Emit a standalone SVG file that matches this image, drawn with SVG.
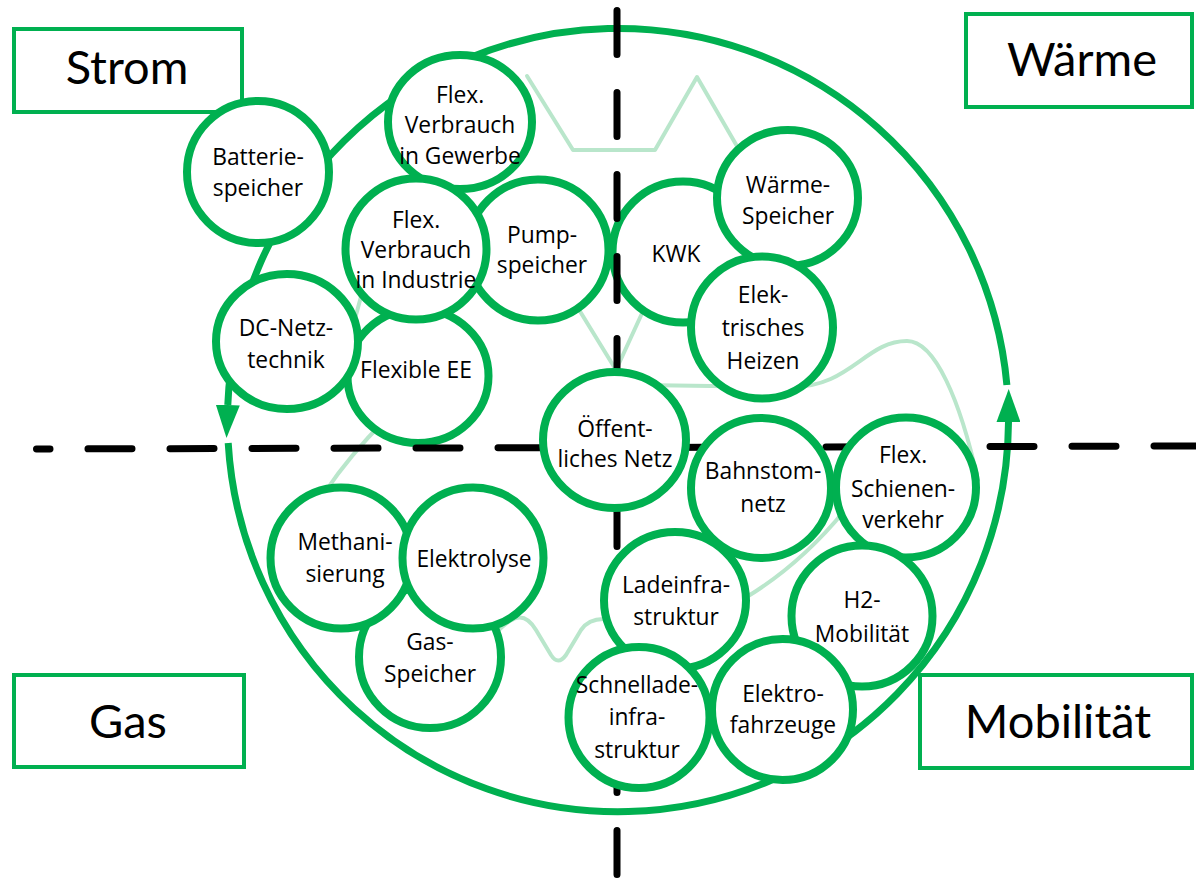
<svg xmlns="http://www.w3.org/2000/svg" width="1196" height="878" viewBox="0 0 1196 878">
<style>
.box{fill:#fff;stroke:#00b050;stroke-width:4}
.blabel{font-family:Lato,'Liberation Sans',sans-serif;font-size:47px;fill:#000;text-anchor:middle}
.node{fill:#fff;stroke:#00b050;stroke-width:8}
.t{font-family:'Open Sans','Liberation Sans',sans-serif;font-size:22.8px;fill:#000;text-anchor:middle}
.light{fill:none;stroke:#b9e6cb;stroke-width:4;stroke-linejoin:round;stroke-linecap:round}
.ring{fill:none;stroke:#00b050;stroke-width:7}
.dash{stroke:#000;stroke-width:7;stroke-linecap:round;stroke-dasharray:44 38}
</style>
<defs>
<marker id="arr" markerUnits="userSpaceOnUse" markerWidth="33" markerHeight="24" viewBox="0 0 33 24" refX="0" refY="12" orient="auto">
<path d="M0,0 L33,12 L0,24 Z" fill="#00b050"/>
</marker>
</defs>

<g id="box-strom"><rect class="box" x="14" y="29" width="228" height="83"/><text class="blabel" x="127" y="84">Strom</text></g>
<g id="box-waerme"><rect class="box" x="966" y="14" width="226" height="93"/><text class="blabel" x="1082" y="76">Wärme</text></g>
<g id="box-gas"><rect class="box" x="14" y="675" width="230" height="92"/><text class="blabel" x="128" y="738">Gas</text></g>
<g id="box-mobilitaet"><rect class="box" x="920" y="675" width="272" height="93"/><text class="blabel" x="1058" y="738">Mobilität</text></g>

<g id="connectors">
<path class="light" d="M527,76 L573,150 L655,150 L697,77 L745,160"/>
<path class="light" d="M570,295 L616,370 L655,285"/>
<path class="light" d="M640,385 L790,387 C850,388 865,341 907,341 C935,341 960,400 978,480"/>
<path class="light" d="M845,510 Q800,565 745,598"/>
<path class="light" d="M495,634 C512,616 524,610 536,630 L551,655 Q558,666 566,655 L581,630 Q591,616 612,620"/>
<path class="light" d="M385,420 Q350,455 325,492"/>
<path class="light" d="M366,278 L352,330"/>
<path class="ring" d="M1006.9,385 A390.5,392 0 0 0 227.8,405" marker-end="url(#arr)"/>
<path class="ring" d="M228.2,443 A390.5,392 0 0 0 1008.5,422" marker-end="url(#arr)"/>
</g>

<g id="n-kwk"><circle class="node" cx="683" cy="252" r="70.5"/><text class="t" x="676" y="262">KWK</text></g>
<g id="n-waermespeicher"><ellipse class="node" cx="787.5" cy="198" rx="70.5" ry="68"/><text class="t" x="788" y="193">Wärme-</text><text class="t" x="788" y="224">Speicher</text></g>
<g id="n-heizen"><circle class="node" cx="762" cy="327.5" r="71"/><text class="t" x="763" y="303">Elek-</text><text class="t" x="763" y="336">trisches</text><text class="t" x="763" y="369">Heizen</text></g>
<g id="n-pumpspeicher"><circle class="node" cx="538" cy="250" r="70.5"/><text class="t" x="542" y="243">Pump-</text><text class="t" x="542" y="273">speicher</text></g>
<g id="n-gewerbe"><ellipse class="node" cx="460" cy="122" rx="72" ry="67"/><text class="t" x="460" y="103">Flex.</text><text class="t" x="460" y="133">Verbrauch</text><text class="t" x="460" y="164">in Gewerbe</text></g>
<g id="n-flexee"><ellipse class="node" cx="418" cy="376" rx="70.5" ry="67"/><text class="t" x="416" y="378">Flexible EE</text></g>
<g id="n-industrie"><circle class="node" cx="416" cy="249" r="70.5"/><text class="t" x="416" y="228">Flex.</text><text class="t" x="416" y="258">Verbrauch</text><text class="t" x="416" y="288">in Industrie</text></g>
<g id="n-dcnetz"><ellipse class="node" cx="287" cy="341.5" rx="71" ry="67.5"/><text class="t" x="286" y="336">DC-Netz-</text><text class="t" x="286" y="368">technik</text></g>
<g id="n-batterie"><circle class="node" cx="258" cy="172" r="71"/><text class="t" x="258" y="165">Batterie-</text><text class="t" x="258" y="196">speicher</text></g>
<g id="n-gasspeicher"><circle class="node" cx="430" cy="657" r="71"/><text class="t" x="430" y="650">Gas-</text><text class="t" x="430" y="682">Speicher</text></g>
<g id="n-methanisierung"><circle class="node" cx="341" cy="558" r="70.5"/><text class="t" x="345" y="550">Methani-</text><text class="t" x="345" y="582">sierung</text></g>
<g id="n-elektrolyse"><circle class="node" cx="473" cy="558" r="70.5"/><text class="t" x="474" y="567">Elektrolyse</text></g>

<g id="axes">
<line class="dash" x1="617" y1="10.5" x2="617" y2="878"/>
<line class="dash" x1="36.5" y1="449" x2="1196" y2="446" stroke-dashoffset="30.5"/>
</g>

<g id="n-oeffentlich"><ellipse class="node" cx="614.5" cy="440" rx="71.5" ry="68"/><text class="t" x="615" y="437">Öffent-</text><text class="t" x="615" y="467">liches Netz</text></g>
<g id="n-bahnstrom"><circle class="node" cx="761" cy="488" r="70"/><text class="t" x="763" y="479">Bahnstom-</text><text class="t" x="763" y="512">netz</text></g>
<g id="n-schienen"><circle class="node" cx="906" cy="487.5" r="70"/><text class="t" x="903" y="463">Flex.</text><text class="t" x="903" y="497">Schienen-</text><text class="t" x="903" y="528">verkehr</text></g>
<g id="n-h2"><circle class="node" cx="862" cy="616" r="70.5"/><text class="t" x="862" y="608">H2-</text><text class="t" x="862" y="642">Mobilität</text></g>
<g id="n-ladeinfra"><ellipse class="node" cx="675" cy="600.5" rx="71" ry="68.5"/><text class="t" x="676" y="593">Ladeinfra-</text><text class="t" x="676" y="625">struktur</text></g>
<g id="n-schnellade"><circle class="node" cx="639" cy="717.5" r="70.5"/><text class="t" x="637" y="693">Schnellade-</text><text class="t" x="637" y="725">infra-</text><text class="t" x="637" y="758">struktur</text></g>
<g id="n-elektrofahrzeuge"><circle class="node" cx="782.5" cy="709.5" r="70.5"/><text class="t" x="783" y="702">Elektro-</text><text class="t" x="783" y="733">fahrzeuge</text></g>
</svg>
